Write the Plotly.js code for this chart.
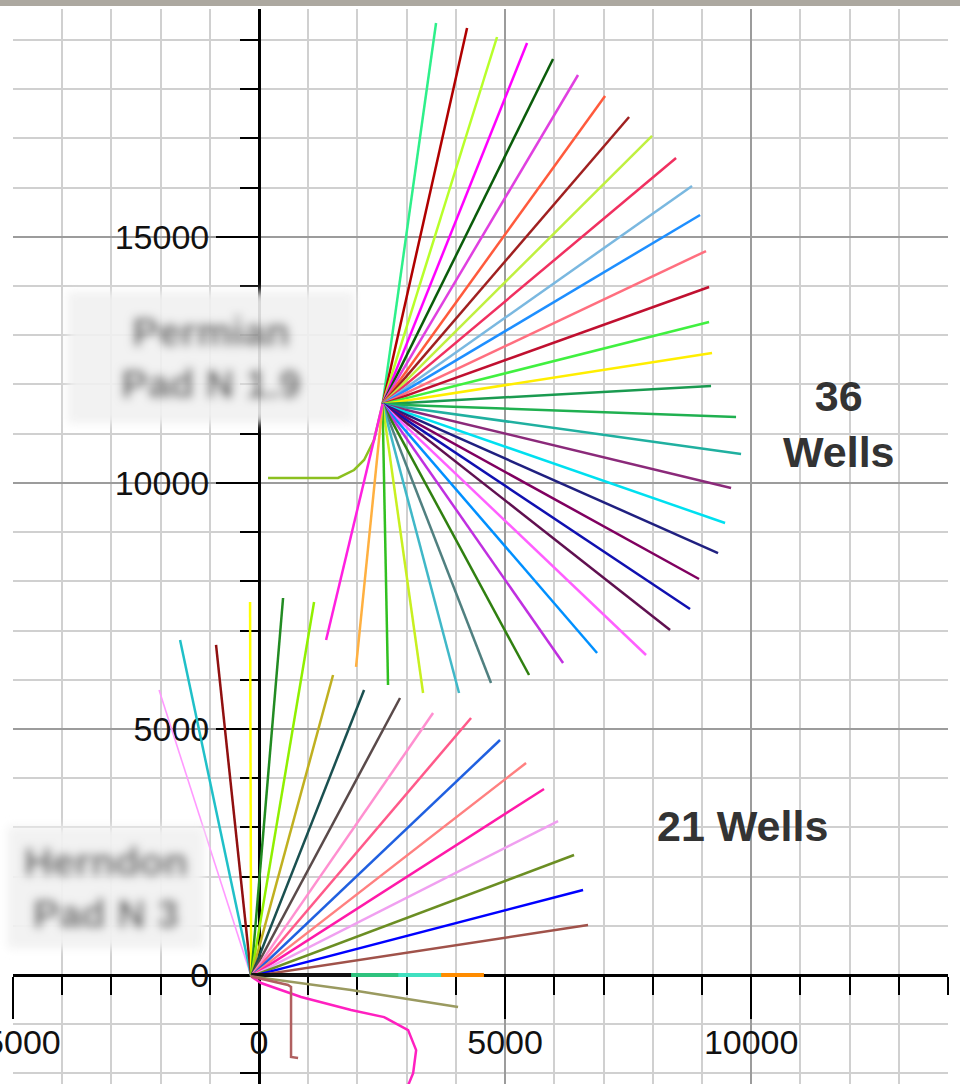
<!DOCTYPE html>
<html>
<head>
<meta charset="utf-8">
<script src="https://cdn.plot.ly/plotly-3.0.1.min.js"></script>
<style>
html,body{margin:0;padding:0;background:#ffffff;}
#chart{width:960px;height:1084px;}
</style>
</head>
<body>
<div id="chart"></div>
<script>
// ---------- DATA (feet, plan view) ----------
// Upper pad: 36 wells
const upperPadX = 2510;
const upperPadY = 11600;
const upperEndX = [3597,4227,4836,5446,5974,6482,7031,7519,7986,8474,8799,8962,9083,9145,9145,9205,
                   9185,9693,9795,9592,9470,9327,8941,8758,8352,7864,6869,6178,5487,4714,4064,3333,2621,1971,1362];
const upperEndY = [19346,19244,19061,18939,18614,18289,17862,17436,17050,16603,16034,15444,14712,13981,13270,12640,
                   11969,11339,10587,9896,9185,8575,8047,7437,7011,6503,6543,6340,6096,5934,5730,5730,5893,6259,6808];
const upperColors = ['#2ef08a','#b00000','#b8ff2a','#ff00ff','#0a5c0a','#e040e0','#ff5a3c','#a02020','#c0f040','#f03060',
                     '#7ab8e0','#1e8fff','#ff6f7f','#c01030','#40f040','#ffee00',
                     '#1a9a50','#20b050','#20b0a0','#8b2a7a','#00e0f0','#202080','#800060','#1010b0','#601050',
                     '#ff60ff','#0090ff','#c030e0','#308010','#508080','#40b8c8','#c8f020','#30c020','#ffb040','#ff20e0'];
// lateral well that reaches the upper pad from the west
const lateralX = [183,1605,1930,2134,2337,2510];
const lateralY = [10100,10100,10262,10465,10872,11600];
const lateralColor = '#8cc020';

// Lower pad: 21 wells
const lowerPadX = -160;
const lowerPadY = -30;
const lowerEndX = [-2032,-1605,-874,-183,488,1118,1504,2134,2865,3536,4308,4897,5426,5791,6076,6401,6584,6685];
const lowerEndY = [5791,6808,6706,7580,7661,7580,6097,5791,5629,5324,5222,4775,4308,3779,3129,2438,1727,1016];
const lowerColors = ['#ff99ff','#20c0c8','#901010','#ffff00','#228b22','#90f000','#c0b020','#1a5050','#5a4a4a',
                     '#ff90d0','#ff5a8a','#2060e0','#ff8080','#ff1aa8','#f0a0f0','#6b8e23','#0000ff','#a0524a'];
// wells along the x axis (east)
const flatEndX = [4570,3700,2830,1870];
const flatColors = ['#ff8c00','#40e0c0','#2ec27e','#111111'];
// wells heading south
const khakiX = [-160,1870,2886,4044];
const khakiY = [-30,-305,-467,-650];
const pinkCurveX = [-160,40,854,1870,2541,3029,3192,3131,2989];
const pinkCurveY = [-30,-163,-447,-712,-855,-1119,-1526,-1994,-2340];
const hookX = [-160,589,650,650,793];
const hookY = [-30,-203,-244,-1666,-1687];

// axis ranges
const xRange = [-5000,14000];
const yRange = [-2215,19630];

// ---------- TRACES ----------
const traces = [];
function addLine(xs, ys, color, w){
  traces.push({type:'scatter', mode:'lines', x:xs, y:ys, line:{color:color, width:w||2.5}, hoverinfo:'skip', showlegend:false});
}
for(let i=0;i<lowerEndX.length;i++){
  addLine([lowerPadX, lowerEndX[i]],[lowerPadY, lowerEndY[i]], lowerColors[i], i===0?1.6:2.5);
}
for(let i=0;i<flatEndX.length;i++){
  addLine([lowerPadX, flatEndX[i]],[0, 0], flatColors[i], 4);
}
addLine(khakiX, khakiY, '#9a9a60');
addLine(pinkCurveX, pinkCurveY, '#ff20c0');
addLine(hookX, hookY, '#b06060');
addLine(lateralX, lateralY, lateralColor);
for(let i=0;i<upperEndX.length;i++){
  addLine([upperPadX, upperEndX[i]],[upperPadY, upperEndY[i]], upperColors[i]);
}

// ---------- LAYOUT ----------
const tickFont = {family:'Liberation Sans, Arial, sans-serif', size:34, color:'#111111'};
function axisBase(range, pos){
  return {
    range: range, anchor:'free', position: pos,
    tick0:0, dtick:5000, ticks:'outside', ticklen:42, tickwidth:2, tickcolor:'#000000',
    showline:true, linecolor:'#000000', linewidth:3,
    showgrid:true, gridcolor:'#9c9c9c', gridwidth:2, zeroline:false,
    tickfont: tickFont, tickformat:'d', ticklabeloverflow:'allow',
    minor:{dtick:1000, tick0:0, ticks:'outside', ticklen:18, tickwidth:2, tickcolor:'#000000',
           showgrid:true, gridcolor:'#d0d0d0', gridwidth:2},
    fixedrange:true, layer:'below traces'
  };
}
const xaxis = axisBase(xRange, (0-yRange[0])/(yRange[1]-yRange[0]));
xaxis.ticklabelstandoff = -6;
const yaxis = axisBase(yRange, (0-xRange[0])/(xRange[1]-xRange[0]));
yaxis.ticklabelstandoff = 0;

const bigFont = {family:'Liberation Sans, Arial, sans-serif', size:43, color:'#333333', weight:700};
const blurFont = {family:'Liberation Sans, Arial, sans-serif', size:40, color:'#4a4a4a', weight:700};

const layout = {
  width:960, height:1084,
  margin:{l:13, r:12, t:9, b:0, pad:0},
  paper_bgcolor:'#ffffff', plot_bgcolor:'#ffffff',
  showlegend:false,
  xaxis: xaxis, yaxis: yaxis,
  shapes:[
    {type:'rect', xref:'paper', yref:'paper', x0:-0.02, x1:1.02, y0:1.0028, y1:1.0095,
     fillcolor:'#aca8a0', line:{width:0}, layer:'above'}
  ],
  annotations:[
    {x:11780, y:11200, xref:'x', yref:'y', text:'36<br>Wells', showarrow:false, font:bigFont, align:'center'},
    {x:9815, y:3028, xref:'x', yref:'y', text:'21 Wells', showarrow:false, font:bigFont, align:'center'},
    {x:-975, y:12548, xref:'x', yref:'y', text:'Permian<br>Pad N 1.9', showarrow:false, font:blurFont,
     align:'center', width:286, height:131, bgcolor:'rgba(241,241,241,0.9)', borderpad:0},
    {x:-3109, y:1778, xref:'x', yref:'y', text:'Herndon<br>Pad N 3', showarrow:false, font:blurFont,
     align:'center', width:196, height:121, bgcolor:'rgba(241,241,241,0.95)', borderpad:0}
  ]
};

Plotly.newPlot('chart', traces, layout, {staticPlot:true, displayModeBar:false}).then(function(){
  const ns = 'http://www.w3.org/2000/svg';
  const svg = document.querySelector('#chart svg.main-svg');
  let defs = svg.querySelector('defs');
  if(!defs){ defs = document.createElementNS(ns,'defs'); svg.insertBefore(defs, svg.firstChild); }
  const f = document.createElementNS(ns,'filter');
  f.setAttribute('id','blurLabel');
  f.setAttribute('x','-20%'); f.setAttribute('y','-20%');
  f.setAttribute('width','140%'); f.setAttribute('height','140%');
  const g = document.createElementNS(ns,'feGaussianBlur');
  g.setAttribute('stdDeviation','5');
  f.appendChild(g);
  defs.appendChild(f);
  document.querySelectorAll('#chart .annotation').forEach(function(a){
    if(a.textContent.indexOf('Pad') >= 0){ a.setAttribute('filter','url(#blurLabel)'); }
  });
});
</script>
</body>
</html>
